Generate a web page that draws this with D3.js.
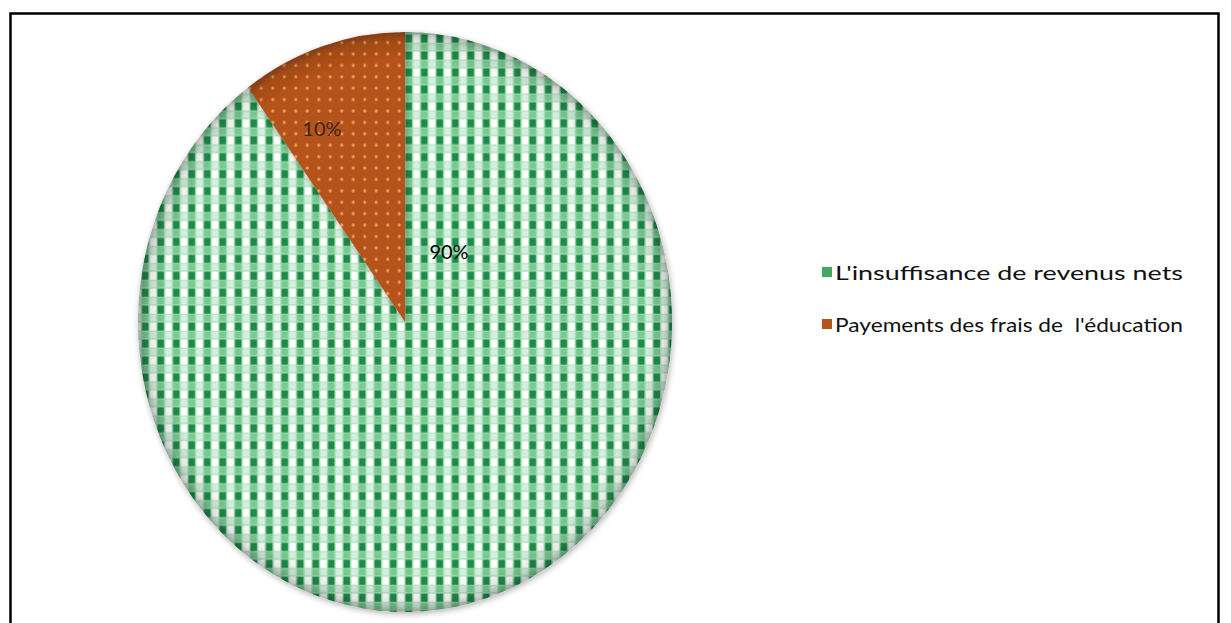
<!DOCTYPE html>
<html>
<head>
<meta charset="utf-8">
<script src="https://cdn.jsdelivr.net/npm/d3@7"></script>
<style>
  html, body { margin: 0; padding: 0; background: #fff; }
  svg { display: block; }
  text { font-family: Lato, "Open Sans", sans-serif; white-space: pre; }
</style>
</head>
<body>
<svg id="chart" width="1231" height="623"></svg>
<script>
// Causes and their shares (percent)
const categories = ["L'insuffisance de revenus nets", "Payements des frais de  l'éducation"];
const shares = [90, 10];
const shareLabels = ["90%", "10%"];

const svg = d3.select("#chart");

// Frame around the chart area
svg.append("rect")
  .attr("x", 10.5).attr("y", 13.5)
  .attr("width", 1208).attr("height", 640)
  .attr("fill", "#fff")
  .attr("stroke", "#000").attr("stroke-width", 2.5);

const defs = svg.append("defs");

// Green check pattern
const pg = defs.append("pattern")
  .attr("id", "check").attr("patternUnits", "userSpaceOnUse")
  .attr("width", 15.5).attr("height", 15.6);
pg.append("rect").attr("width", 15.5).attr("height", 15.6).attr("fill", "#a9dfb8");
pg.append("rect").attr("x", 0.5).attr("y", 0.5).attr("width", 6.5).attr("height", 7.5).attr("fill", "#1f8a4a");
pg.append("rect").attr("x", 8.25).attr("y", 0.5).attr("width", 6.5).attr("height", 7.5).attr("fill", "#ffffff");
pg.append("rect").attr("x", 0.5).attr("y", 8.8).attr("width", 6.5).attr("height", 6.2).attr("fill", "#79c993");
pg.append("rect").attr("x", 8.25).attr("y", 8.8).attr("width", 6.5).attr("height", 6.2).attr("fill", "#d4efdc");

// Orange dotted pattern
const pb = defs.append("pattern")
  .attr("id", "dots").attr("patternUnits", "userSpaceOnUse")
  .attr("width", 11.5).attr("height", 10.5);
pb.append("rect").attr("width", 11.5).attr("height", 10.5).attr("fill", "#b5531a");
pb.append("circle").attr("cx", 5.75).attr("cy", 5.25).attr("r", 1.5).attr("fill", "#f2a35e");

// Rim shading for a soft bevel
const rg = defs.append("radialGradient").attr("id", "rim")
  .attr("gradientUnits", "userSpaceOnUse").attr("cx", 0).attr("cy", 0).attr("r", 267);
rg.append("stop").attr("offset", "0.9").attr("stop-color", "#000").attr("stop-opacity", 0);
rg.append("stop").attr("offset", "0.97").attr("stop-color", "#000").attr("stop-opacity", 0.1);
rg.append("stop").attr("offset", "1").attr("stop-color", "#000").attr("stop-opacity", 0.28);

const shadow = defs.append("filter").attr("id", "shadow")
  .attr("x", "-10%").attr("y", "-10%").attr("width", "120%").attr("height", "120%");
shadow.append("feGaussianBlur").attr("in", "SourceAlpha").attr("stdDeviation", 3).attr("result", "b");
shadow.append("feOffset").attr("in", "b").attr("dx", 1).attr("dy", 2).attr("result", "o");
shadow.append("feComponentTransfer").attr("in", "o").attr("result", "s")
  .append("feFuncA").attr("type", "linear").attr("slope", 0.3);
const merge = shadow.append("feMerge");
merge.append("feMergeNode").attr("in", "s");
merge.append("feMergeNode").attr("in", "SourceGraphic");

const fills = ["url(#check)", "url(#dots)"];
const legendColors = ["#3fa865", "#b3561b"];

// Pie (slightly taller than wide)
const R = 267, cx = 405, cy = 322, sy = 290 / 267;
const pie = d3.pie().sort(null).value(d => d);
const arcs = pie(shares);
const arc = d3.arc().innerRadius(0).outerRadius(R);

const g = svg.append("g")
  .attr("transform", `translate(${cx},${cy}) scale(1,${sy})`);

const slices = g.selectAll("g.slice").data(arcs).join("g").attr("class", "slice")
  .attr("filter", "url(#shadow)");
slices.append("path").attr("d", arc).attr("fill", (d, i) => fills[i]);
slices.append("path").attr("d", arc).attr("fill", "url(#rim)");

// Value labels: the large slice's label sits just right of the centre line,
// the small one inside its wedge
const labelPos = [
  d => [44, -65],
  d => { const c = d3.arc().innerRadius(R * 0.74).outerRadius(R * 0.74).centroid(d); return [c[0] - 22, c[1] + 9]; }
];
svg.selectAll("text.val").data(arcs).join("text").attr("class", "val")
  .attr("x", (d, i) => cx + labelPos[i](d)[0])
  .attr("y", (d, i) => cy + labelPos[i](d)[1] * sy)
  .attr("text-anchor", "middle").attr("dominant-baseline", "central")
  .attr("font-size", 20)
  .attr("fill", (d, i) => i === 0 ? "#000" : "#3a2410")
  .text((d, i) => shareLabels[i]);

// Legend
const legend = svg.append("g").attr("transform", "translate(822,0)");
const rowsY = [272, 324];
const items = legend.selectAll("g").data(categories).join("g")
  .attr("transform", (d, i) => `translate(0,${rowsY[i]})`);
items.append("rect").attr("x", 0).attr("y", -5).attr("width", 10).attr("height", 10)
  .attr("fill", (d, i) => legendColors[i]);
items.append("text").attr("x", 13).attr("y", 0)
  .attr("dominant-baseline", "central").attr("font-size", 20).attr("fill", "#111")
  .attr("textLength", 348).attr("lengthAdjust", "spacingAndGlyphs")
  .text(d => d);
</script>
</body>
</html>
